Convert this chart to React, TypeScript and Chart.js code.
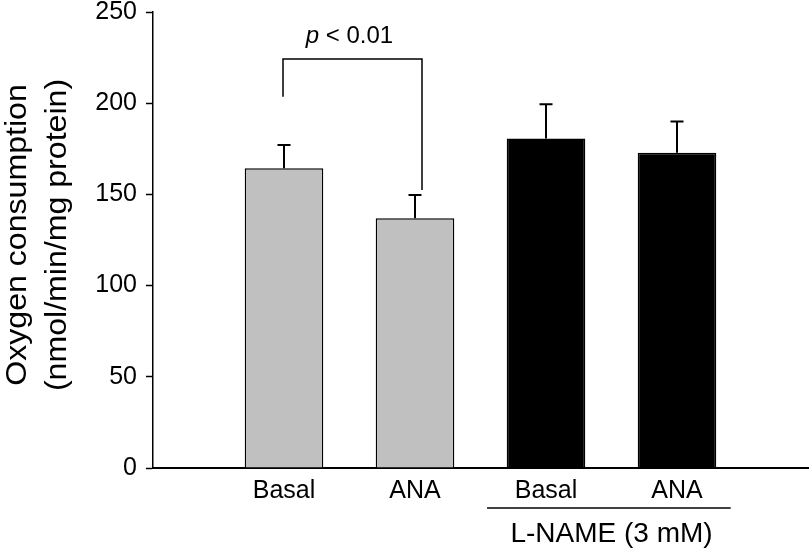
import React, { useEffect, useRef } from "react";
import { Chart, registerables } from "chart.js";

Chart.register(...registerables);

const categories = ["", "Basal", "ANA", "Basal", "ANA", ""];
const means = [null, 164.3, 136.9, 180.7, 172.9, null];
const errorTops = [null, 177.1, 149.7, 199.4, 189.9, null];
const barColors = ["#c0c0c0", "#c0c0c0", "#c0c0c0", "#000000", "#000000", "#000000"];
const yTicks = [0, 50, 100, 150, 200, 250];
const yTitleLines = ["Oxygen consumption", "(nmol/min/mg protein)"];
const groupLabel = "L-NAME (3 mM)";
const pLabelItalic = "p";
const pLabelRest = " < 0.01";
const bracketLeftIdx = 1;
const bracketRightIdx = 2;
const bracketLeftBottom = 203.6;
const bracketRightBottom = 152.4;
const bracketTop = 224.2;

const FONT = "'Liberation Sans', Arial, Helvetica, sans-serif";

const extrasPlugin = {
  id: "extras",
  afterDatasetsDraw(chart: any) {
    const { ctx, scales } = chart;
    const x = scales.x;
    const y = scales.y;
    ctx.save();
    ctx.strokeStyle = "#000";
    ctx.lineWidth = 2;
    for (let i = 0; i < means.length; i++) {
      const m = means[i];
      const e = errorTops[i];
      if (m == null || e == null) continue;
      const px = x.getPixelForValue(i);
      const py0 = y.getPixelForValue(m);
      const py1 = y.getPixelForValue(e);
      ctx.beginPath();
      ctx.moveTo(px, py0);
      ctx.lineTo(px, py1);
      ctx.moveTo(px - 6.5, py1);
      ctx.lineTo(px + 6.5, py1);
      ctx.stroke();
    }
    const lx = x.getPixelForValue(bracketLeftIdx) - 1;
    const rx = x.getPixelForValue(bracketRightIdx) + 7;
    const ty = y.getPixelForValue(bracketTop);
    ctx.lineWidth = 1.5;
    ctx.beginPath();
    ctx.moveTo(lx, y.getPixelForValue(bracketLeftBottom));
    ctx.lineTo(lx, ty);
    ctx.lineTo(rx, ty);
    ctx.lineTo(rx, y.getPixelForValue(bracketRightBottom));
    ctx.stroke();
    ctx.fillStyle = "#000";
    ctx.textBaseline = "alphabetic";
    ctx.textAlign = "left";
    ctx.font = `italic 24px ${FONT}`;
    const w1 = ctx.measureText(pLabelItalic).width;
    ctx.font = `24px ${FONT}`;
    const w2 = ctx.measureText(pLabelRest).width;
    const cx = (lx + rx) / 2 - 3;
    const startX = cx - (w1 + w2) / 2;
    ctx.font = `italic 24px ${FONT}`;
    ctx.fillText(pLabelItalic, startX, ty - 16);
    ctx.font = `24px ${FONT}`;
    ctx.fillText(pLabelRest, startX + w1, ty - 16);

    const step = x.getPixelForValue(4) - x.getPixelForValue(3);
    const gl = x.getPixelForValue(3) - 0.45 * step;
    const gr = x.getPixelForValue(4) + 0.41 * step;
    const gy = chart.chartArea.bottom + 40;
    ctx.lineWidth = 1.5;
    ctx.beginPath();
    ctx.moveTo(gl, gy);
    ctx.lineTo(gr, gy);
    ctx.stroke();
    ctx.font = `28px ${FONT}`;
    ctx.textAlign = "center";
    ctx.fillText(groupLabel, (x.getPixelForValue(3) + x.getPixelForValue(4)) / 2, gy + 34);

    const cy = (chart.chartArea.top + chart.chartArea.bottom) / 2 - 5;
    const baselines = [26, 66];
    ctx.font = `30px ${FONT}`;
    ctx.textAlign = "center";
    yTitleLines.forEach((line, k) => {
      ctx.save();
      ctx.translate(baselines[k], cy);
      ctx.rotate(-Math.PI / 2);
      ctx.scale(1.07, 1);
      ctx.fillText(line, 0, 0);
      ctx.restore();
    });
    ctx.restore();
  },
};

export default function App() {
  const ref = useRef<HTMLCanvasElement>(null);
  useEffect(() => {
    if (!ref.current) return;
    const chart = new Chart(ref.current, {
      type: "bar",
      data: {
        labels: categories,
        datasets: [
          {
            data: means as any,
            backgroundColor: barColors,
            borderColor: "#000",
            borderWidth: 1.5,
            barPercentage: 0.6,
            categoryPercentage: 1,
          },
        ],
      },
      options: {
        animation: false,
        responsive: true,
        maintainAspectRatio: false,
        layout: { padding: { top: 0, right: 2, left: 0, bottom: 0 } },
        plugins: { legend: { display: false }, tooltip: { enabled: false } },
        scales: {
          x: {
            type: "category",
            offset: false,
            grid: { display: false, drawTicks: false },
            border: { display: true, color: "#000", width: 2 },
            ticks: {
              color: "#000",
              font: { family: FONT, size: 25 },
              padding: 8,
              maxRotation: 0,
              autoSkip: false,
            },
            afterFit: (s: any) => {
              s.height = 87;
              s.paddingLeft = 0;
              s.paddingRight = 0;
            },
          },
          y: {
            min: 0,
            max: 250,
            afterBuildTicks: (s: any) => {
              s.ticks = yTicks.map((v) => ({ value: v }));
            },
            grid: {
              drawOnChartArea: false,
              drawTicks: true,
              tickLength: 7,
              tickColor: "#000",
              tickWidth: 1.5,
            },
            border: { display: true, color: "#000", width: 1.5 },
            ticks: {
              color: "#000",
              font: { family: FONT, size: 25 },
              padding: 9,
            },
            afterFit: (s: any) => {
              s.width = 153;
              s.paddingTop = 12;
              s.paddingBottom = 0;
            },
          },
        },
      },
      plugins: [extrasPlugin],
    });
    return () => chart.destroy();
  }, []);
  return (
    <div style={{ position: "absolute", left: 0, top: 0, width: 810, height: 555, background: "#fff" }}>
      <canvas ref={ref} />
    </div>
  );
}
